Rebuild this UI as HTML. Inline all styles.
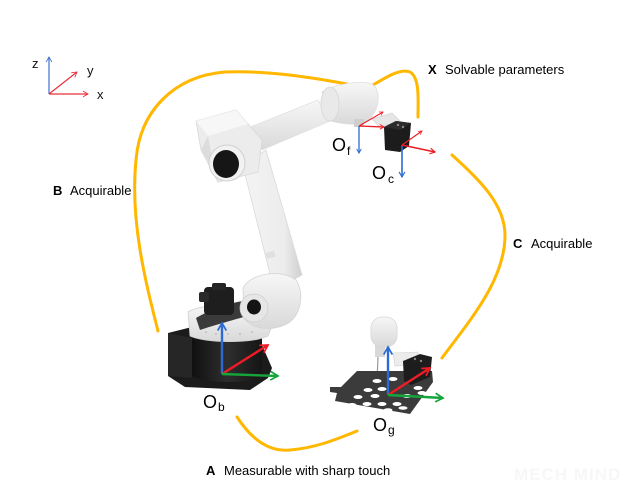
<!DOCTYPE html>
<html><head><meta charset="utf-8">
<style>
html,body{margin:0;padding:0;background:#fff;}
svg{display:block;font-family:"Liberation Sans",Arial,sans-serif;}
</style></head>
<body>
<svg width="640" height="485" viewBox="0 0 640 485" xmlns="http://www.w3.org/2000/svg">
<defs>
 <marker id="mb" viewBox="0 0 10 10" refX="8" refY="5" markerWidth="4.5" markerHeight="4.5" orient="auto"><path d="M1,1 L8,5 L1,9" fill="none" stroke="#2d6bd4" stroke-width="1.6"/></marker>
 <marker id="mr" viewBox="0 0 10 10" refX="8" refY="5" markerWidth="4.5" markerHeight="4.5" orient="auto"><path d="M1,1 L8,5 L1,9" fill="none" stroke="#ee1c25" stroke-width="1.6"/></marker>
 <marker id="mg" viewBox="0 0 10 10" refX="8" refY="5" markerWidth="4.5" markerHeight="4.5" orient="auto"><path d="M1,1 L8,5 L1,9" fill="none" stroke="#16a53c" stroke-width="1.6"/></marker>
 <marker id="mbs" viewBox="0 0 10 10" refX="8" refY="5" markerWidth="6" markerHeight="6" orient="auto"><path d="M1,1 L8,5 L1,9" fill="none" stroke="#3a70d0" stroke-width="1.2"/></marker>
 <marker id="mrs" viewBox="0 0 10 10" refX="8" refY="5" markerWidth="6" markerHeight="6" orient="auto"><path d="M1,1 L8,5 L1,9" fill="none" stroke="#e8303c" stroke-width="1.2"/></marker>
 <linearGradient id="gw" x1="0" y1="0" x2="0" y2="1"><stop offset="0" stop-color="#f7f7f7"/><stop offset="1" stop-color="#d9d9d9"/></linearGradient>
 <linearGradient id="gwh" x1="0" y1="0" x2="1" y2="0"><stop offset="0" stop-color="#f4f4f4"/><stop offset="0.7" stop-color="#ececec"/><stop offset="1" stop-color="#cfcfcf"/></linearGradient>
 <linearGradient id="gk" x1="0" y1="0" x2="1" y2="0"><stop offset="0" stop-color="#101010"/><stop offset="0.5" stop-color="#2e2e2e"/><stop offset="1" stop-color="#151515"/></linearGradient>
</defs>

<!-- yellow curves -->
<g fill="none" stroke="#ffb700" stroke-width="3" stroke-linecap="round">
 <path d="M158,331 C145,280 130,220 136,160 C140,110 175,76 225,72 C270,70 320,79 347,84"/>
 <path d="M373,85 C385,78 400,68 410,72 C420,78 418,100 418,117"/>
 <path d="M452,155 C480,180 505,205 505,235 C505,280 470,320 442,358"/>
 <path d="M237,417 C252,440 270,452 290,450 C315,448 335,440 357,431"/>
</g>

<!-- top-left axes -->
<g stroke-width="1.2" fill="none">
 <line x1="49" y1="94" x2="49" y2="57" stroke="#3a70d0" marker-end="url(#mbs)"/>
 <line x1="49" y1="94" x2="88" y2="94" stroke="#e8303c" marker-end="url(#mrs)"/>
 <line x1="49" y1="94" x2="77" y2="72" stroke="#e8303c" marker-end="url(#mrs)"/>
</g>
<text x="32" y="68" font-size="13" fill="#111">z</text>
<text x="87" y="75" font-size="13" fill="#111">y</text>
<text x="97" y="99" font-size="13" fill="#111">x</text>

<!-- robot: forearm -->
<polygon points="248,128 318,100 330,121 262,150" fill="url(#gw)" stroke="#e2e2e2" stroke-width="0.8"/>
<path d="M322,92 C335,84 360,80 372,84 C382,90 380,112 366,122 C355,126 340,124 328,120 Z" fill="url(#gw)" stroke="#dedede" stroke-width="0.8"/>
<ellipse cx="330" cy="104" rx="9" ry="17" fill="#e9e9e9" stroke="#d6d6d6" stroke-width="0.8"/>
<rect x="354" y="119" width="10" height="8" fill="#cfcfcf"/>

<!-- lower arm -->
<polygon points="243,166 266,150 302,275 274,290" fill="url(#gwh)" stroke="#dadada" stroke-width="0.8"/>
<rect x="266" y="252" width="9" height="6" fill="#e0e0e0" transform="rotate(-15 270 255)"/>

<!-- shoulder box -->
<polygon points="196,121 236,110 262,140 258,172 218,182 201,150" fill="#ececec" stroke="#d8d8d8" stroke-width="0.8"/>
<polygon points="196,121 236,110 248,124 208,136" fill="#f7f7f7"/>
<polygon points="201,150 208,136 214,170" fill="#dcdcdc"/>
<ellipse cx="227" cy="163" rx="18" ry="18" fill="#f2f2f2" stroke="#d0d0d0" stroke-width="1"/>
<ellipse cx="226" cy="164" rx="13" ry="14" fill="#161616"/>

<!-- base -->
<polygon points="168,333 200,325 262,345 272,368 268,378 250,390 185,387 168,376" fill="#1b1b1b"/>
<path d="M192,336 L262,336 L262,376 C250,384 205,384 192,376 Z" fill="url(#gk)"/>
<polygon points="168,333 192,338 192,378 168,376" fill="#262626"/>
<!-- turret -->
<path d="M188,312 C200,304 250,302 268,306 L276,316 L268,336 C250,344 205,343 190,336 Z" fill="url(#gw)" stroke="#d0d0d0" stroke-width="0.8"/>
<path d="M196,318 C210,310 230,302 250,300 L262,312 C240,318 215,325 200,330 Z" fill="#3a3a3a"/>
<!-- motor -->
<rect x="204" y="287" width="30" height="28" rx="4" fill="#1e1e1e"/>
<rect x="199" y="292" width="10" height="10" rx="2" fill="#2a2a2a"/>
<rect x="212" y="283" width="14" height="7" rx="2" fill="#252525"/>
<g fill="#aaa"><circle cx="206" cy="332" r="0.8"/><circle cx="216" cy="334" r="0.8"/><circle cx="228" cy="334" r="0.8"/><circle cx="240" cy="334" r="0.8"/><circle cx="252" cy="332" r="0.8"/></g>

<!-- elbow joint -->
<path d="M243,288 C250,274 280,268 296,280 C304,292 302,312 290,322 C275,332 252,330 244,318 Z" fill="url(#gw)" stroke="#d4d4d4" stroke-width="0.8"/>
<ellipse cx="254" cy="308" rx="14" ry="14" fill="#e6e6e6" stroke="#cfcfcf" stroke-width="0.8"/>
<ellipse cx="254" cy="307" rx="7" ry="7.5" fill="#141414"/>

<!-- top camera & tool -->
<polygon points="372,119 392,113 400,121 380,127" fill="#e6e6e6" stroke="#cfcfcf" stroke-width="0.6"/>
<polygon points="384,127 396,121 411,123 409,146 400,152 385,150" fill="#1c1c1c"/>
<polygon points="396,121 411,123 400,130 384,127" fill="#2c2c2c"/>
<circle cx="398" cy="125" r="1.2" fill="#888"/><circle cx="403" cy="127" r="1.2" fill="#888"/>

<!-- gripper over board -->
<rect x="371" y="317" width="26" height="30" rx="11" fill="url(#gw)" stroke="#d6d6d6" stroke-width="0.8"/>
<rect x="375" y="345" width="10" height="12" fill="#d8d8d8"/>
<line x1="378" y1="357" x2="377" y2="381" stroke="#999" stroke-width="1.2"/>

<!-- calibration board -->
<polygon points="357,371 432,371 433,382 410,414 335,401 337,393 330,392 330,387 341,387" fill="#3b3b3b"/>
<g fill="#fff">
 <ellipse cx="377" cy="381" rx="4.5" ry="2"/><ellipse cx="393" cy="379" rx="4.5" ry="2"/>
 <ellipse cx="368" cy="390" rx="4.5" ry="2"/><ellipse cx="382" cy="389" rx="4.5" ry="2"/><ellipse cx="418" cy="388" rx="4.5" ry="2"/>
 <ellipse cx="358" cy="397" rx="4.5" ry="2"/><ellipse cx="375" cy="396" rx="4.5" ry="2"/><ellipse cx="407" cy="396" rx="4.5" ry="2"/><ellipse cx="422" cy="393" rx="4.5" ry="2"/>
 <ellipse cx="352" cy="405" rx="4.5" ry="2"/><ellipse cx="367" cy="404" rx="4.5" ry="2"/><ellipse cx="382" cy="404" rx="4.5" ry="2"/><ellipse cx="397" cy="404" rx="4.5" ry="2"/>
 <ellipse cx="373" cy="410" rx="4.5" ry="1.8"/><ellipse cx="388" cy="410" rx="4.5" ry="1.8"/><ellipse cx="403" cy="408" rx="4.5" ry="1.8"/>
</g>
<polygon points="393,353 418,352 418,364 395,366" fill="#ececec" stroke="#cfcfcf" stroke-width="0.6"/>
<polygon points="403,361 420,354 432,357 430,377 411,385 404,381" fill="#1d1d1d"/>
<circle cx="415" cy="359" r="1.2" fill="#888"/><circle cx="421" cy="361" r="1.2" fill="#888"/>

<!-- frames -->
<g fill="none">
 <line x1="359" y1="126" x2="359" y2="153" stroke="#2d6bd4" stroke-width="1.3" marker-end="url(#mb)"/>
 <line x1="359" y1="126" x2="384" y2="127" stroke="#ee1c25" stroke-width="1.3" marker-end="url(#mr)"/>
 <line x1="359" y1="126" x2="383" y2="112" stroke="#ee1c25" stroke-width="1.1" marker-end="url(#mr)"/>

 <line x1="402" y1="145" x2="402" y2="177" stroke="#2d6bd4" stroke-width="1.6" marker-end="url(#mb)"/>
 <line x1="402" y1="145" x2="435" y2="152" stroke="#ee1c25" stroke-width="1.6" marker-end="url(#mr)"/>
 <line x1="402" y1="145" x2="422" y2="131" stroke="#ee1c25" stroke-width="1.1" marker-end="url(#mr)"/>

 <line x1="222" y1="374" x2="222" y2="323" stroke="#2d6bd4" stroke-width="2.4" marker-end="url(#mb)"/>
 <line x1="222" y1="374" x2="268" y2="345" stroke="#ee1c25" stroke-width="2.4" marker-end="url(#mr)"/>
 <line x1="222" y1="374" x2="278" y2="376" stroke="#16a53c" stroke-width="2.4" marker-end="url(#mg)"/>

 <line x1="388" y1="395" x2="388" y2="347" stroke="#2d6bd4" stroke-width="2.4" marker-end="url(#mb)"/>
 <line x1="388" y1="395" x2="430" y2="368" stroke="#ee1c25" stroke-width="2.4" marker-end="url(#mr)"/>
 <line x1="388" y1="395" x2="443" y2="398" stroke="#16a53c" stroke-width="2.4" marker-end="url(#mg)"/>
</g>

<!-- frame labels -->
<g fill="#000">
 <text x="332" y="151" font-size="18">O</text><text x="347" y="155" font-size="12">f</text>
 <text x="372" y="179" font-size="18">O</text><text x="388" y="183" font-size="12">c</text>
 <text x="203" y="408" font-size="18">O</text><text x="218" y="411" font-size="12">b</text>
 <text x="373" y="431" font-size="18">O</text><text x="388" y="434" font-size="12">g</text>
</g>

<!-- captions -->
<g font-size="13" fill="#000">
 <text x="428" y="74"><tspan font-weight="bold">X</tspan><tspan x="445">Solvable parameters</tspan></text>
 <text x="53" y="195"><tspan font-weight="bold">B</tspan><tspan x="70">Acquirable</tspan></text>
 <text x="513" y="248"><tspan font-weight="bold">C</tspan><tspan x="531">Acquirable</tspan></text>
 <text x="206" y="475"><tspan font-weight="bold">A</tspan><tspan x="224">Measurable with sharp touch</tspan></text>
</g>

<!-- watermark -->
<text x="514" y="480" font-size="17" font-weight="bold" fill="#f7f7f7" letter-spacing="1">MECH MIND</text>
</svg>
</body></html>
